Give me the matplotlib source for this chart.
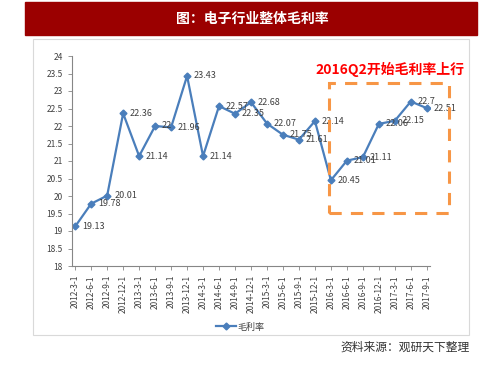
import matplotlib
matplotlib.use("Agg")
import matplotlib.pyplot as plt
from matplotlib.patches import Rectangle
from matplotlib.ticker import FuncFormatter

plt.rcParams['font.family'] = ['Noto Sans CJK SC', 'DejaVu Sans']

dates = ["2012-3-1", "2012-6-1", "2012-9-1", "2012-12-1",
         "2013-3-1", "2013-6-1", "2013-9-1", "2013-12-1",
         "2014-3-1", "2014-6-1", "2014-9-1", "2014-12-1",
         "2015-3-1", "2015-6-1", "2015-9-1", "2015-12-1",
         "2016-3-1", "2016-6-1", "2016-9-1", "2016-12-1",
         "2017-3-1", "2017-6-1", "2017-9-1"]
margin = [19.13, 19.78, 20.01, 22.36,
          21.14, 22.00, 21.96, 23.43,
          21.14, 22.57, 22.35, 22.68,
          22.07, 21.75, 21.61, 22.14,
          20.45, 21.01, 21.11, 22.06,
          22.15, 22.70, 22.51]
y_ticks = [18, 18.5, 19, 19.5, 20, 20.5, 21, 21.5, 22, 22.5, 23, 23.5, 24]

W, H = 503, 378
fig = plt.figure(figsize=(W / 100, H / 100), dpi=100)


def px(x0, y0, x1, y1):
    # pixel box (top-left origin) -> figure fraction rect
    return [x0 / W, 1 - y1 / H, (x1 - x0) / W, (y1 - y0) / H]


# title bar
fig.patches.append(Rectangle((25 / W, 1 - 35 / H), 452 / W, 33 / H,
                             transform=fig.transFigure, color="#9B0000", zorder=-2))
fig.text(252 / W, 1 - 19 / H, "图：电子行业整体毛利率", color="white",
         fontsize=10, fontweight="bold", ha="center", va="center")

# chart panel border
fig.patches.append(Rectangle((33 / W, 1 - 335 / H), 436 / W, 296 / H,
                             transform=fig.transFigure, facecolor="white",
                             edgecolor="#D9D9D9", lw=0.8, zorder=-2))

ax = fig.add_axes(px(72, 56, 430, 266))
ax.set_zorder(2)
ax.set_facecolor("none")
x = list(range(len(dates)))
line, = ax.plot(x, margin, color="#4A7EBB", lw=1.6, marker="D", ms=3.5,
                mec="#4A7EBB", mfc="#4A7EBB", label="毛利率")
for xi, v in zip(x, margin):
    ax.annotate(f"{v:g}", (xi, v), xytext=(5, 0), textcoords="offset points",
                ha="left", va="center", fontsize=6.5, color="#404040")

ax.set_xlim(-0.2, len(dates) - 0.8)
ax.set_ylim(18, 24)
ax.set_yticks(y_ticks)
ax.yaxis.set_major_formatter(FuncFormatter(lambda v, p: f"{v:g}"))
ax.set_xticks(x)
ax.set_xticklabels(dates, rotation=90)
ax.tick_params(axis="both", labelsize=6, colors="#404040", length=3,
               width=0.6, color="#868686")
for s in ["top", "right"]:
    ax.spines[s].set_visible(False)
for s in ["left", "bottom"]:
    ax.spines[s].set_color("#868686")
    ax.spines[s].set_linewidth(0.8)

# highlight box and note
fig.patches.append(Rectangle((329 / W, 1 - 213 / H), 120 / W, 130 / H,
                             transform=fig.transFigure, fill=False,
                             edgecolor="#F79646", lw=2.2, ls=(0, (4, 3)), zorder=5))
fig.text(390 / W, 1 - 69 / H, "2016Q2开始毛利率上行", color="#FF0000",
         fontsize=10, fontweight="bold", ha="center", va="center")

fig.legend(handles=[line], loc="center", bbox_to_anchor=(240 / W, 1 - 327 / H),
           frameon=False, fontsize=6.5, handlelength=2.2, handletextpad=0.2,
           labelcolor="#404040")

fig.text(470 / W, 1 - 347 / H, "资料来源：观研天下整理", color="#333333",
         fontsize=8.5, ha="right", va="center")

fig.savefig("out.png", dpi=100)
